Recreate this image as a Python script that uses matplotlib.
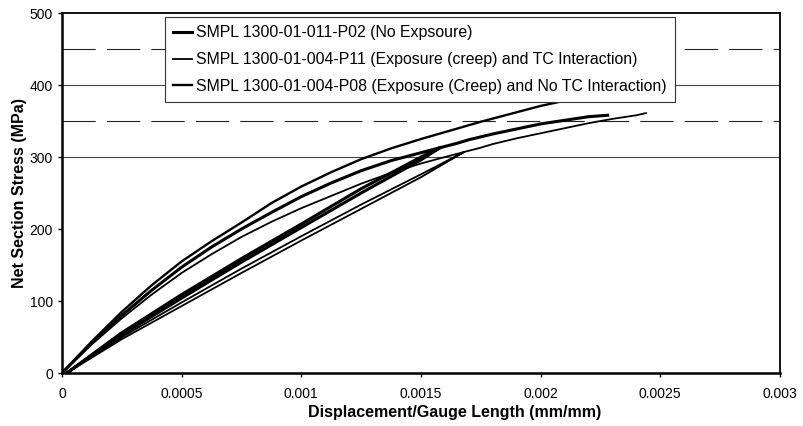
import numpy as np
import matplotlib.pyplot as plt

plt.rcParams['font.family'] = ['Liberation Sans', 'DejaVu Sans']

# strain (mm/mm) and net section stress (MPa)
p02_x = [0, 0.000125, 0.00025, 0.000375, 0.0005, 0.000625, 0.00075, 0.000875, 0.001,
         0.001125, 0.00125, 0.001375, 0.0015, 0.00158,
         0.0015, 0.00125, 0.001, 0.00075, 0.0005, 0.00025, 0.00002,
         0.00025, 0.0005, 0.00075, 0.001, 0.00125, 0.0015, 0.00158,
         0.00165, 0.0017, 0.0018, 0.0019, 0.002, 0.0021, 0.0022, 0.00228]
p02_y = [0, 42, 80, 115, 147, 175, 200, 223, 245,
         264, 281, 295, 306, 313,
         296, 250, 202, 154, 104, 53, 0,
         56, 109, 159, 207, 256, 300, 313,
         319, 324, 332, 339, 346, 351, 356, 358]

p11_x = [0, 0.000125, 0.00025, 0.000375, 0.0005, 0.000625, 0.00075, 0.000875, 0.001,
         0.001125, 0.00125, 0.001375, 0.0015, 0.0016, 0.00168,
         0.0015, 0.00125, 0.001, 0.00075, 0.0005, 0.00025, 0.00002,
         0.00025, 0.0005, 0.00075, 0.001, 0.00125, 0.0015, 0.00168,
         0.00175, 0.0018, 0.0019, 0.002, 0.0021, 0.0022, 0.0023, 0.0024, 0.00244]
p11_y = [0, 40, 76, 109, 139, 165, 189, 210, 229,
         246, 263, 278, 291, 300, 307,
         272, 228, 184, 139, 93, 47, 0,
         50, 98, 145, 190, 234, 276, 307,
         313, 318, 326, 333, 340, 347, 353, 358, 361]

p08_x = [0, 0.000125, 0.00025, 0.000375, 0.0005, 0.000625, 0.00075, 0.000875, 0.001,
         0.001125, 0.00125, 0.001375, 0.0015, 0.001625, 0.00175, 0.001875, 0.002, 0.00207]
p08_y = [0, 44, 85, 122, 155, 183, 209, 236, 259,
         279, 297, 312, 325, 337, 349, 360, 371, 376]

labels = ["SMPL 1300-01-011-P02 (No Expsoure)",
          "SMPL 1300-01-004-P11 (Exposure (creep) and TC Interaction)",
          "SMPL 1300-01-004-P08 (Exposure (Creep) and No TC Interaction)"]

fig = plt.figure(figsize=(8.04, 4.26), dpi=100)
ax = fig.add_axes([0.0771, 0.1244, 0.893, 0.845])

# reference lines
for yv in [300, 400]:
    ax.axhline(yv, color='#444444', lw=0.8, zorder=1)
for yv in [350, 450]:
    ax.axhline(yv, color='#222222', lw=0.8, ls=(0, (30, 10)), zorder=1)

ax.plot(p02_x, p02_y, color='black', lw=2.2, label=labels[0], zorder=3)
ax.plot(p11_x, p11_y, color='black', lw=1.3, label=labels[1], zorder=3)
ax.plot(p08_x, p08_y, color='black', lw=1.7, label=labels[2], zorder=3)

ax.set_xlim(0, 0.003)
ax.set_ylim(0, 500)
ax.set_xticks([0, 0.0005, 0.001, 0.0015, 0.002, 0.0025, 0.003])
ax.set_xticklabels(['0', '0.0005', '0.001', '0.0015', '0.002', '0.0025', '0.003'])
ax.set_yticks([0, 100, 200, 300, 400, 500])
ax.tick_params(axis='both', direction='out', length=3, width=1, labelsize=10)
ax.tick_params(axis='x', pad=7)

for s in ['left', 'bottom']:
    ax.spines[s].set_linewidth(1.8)
for s in ['top', 'right']:
    ax.spines[s].set_linewidth(1.3)

ax.set_xlabel("Displacement/Gauge Length (mm/mm)", fontsize=11.5, fontweight='bold', labelpad=5)
ax.xaxis.set_label_coords(0.547, -0.09)
ax.set_ylabel("Net Section Stress (MPa)", fontsize=11.5, fontweight='bold', labelpad=2)

leg = ax.legend(loc='upper left', bbox_to_anchor=(0.143, 0.988), fontsize=11.4,
                handlelength=1.2, handletextpad=0.3, labelspacing=0.75,
                borderpad=0.5, borderaxespad=0, fancybox=False, framealpha=1,
                edgecolor='#333333')
leg.get_frame().set_linewidth(0.8)

plt.savefig("out.png", dpi=100)
